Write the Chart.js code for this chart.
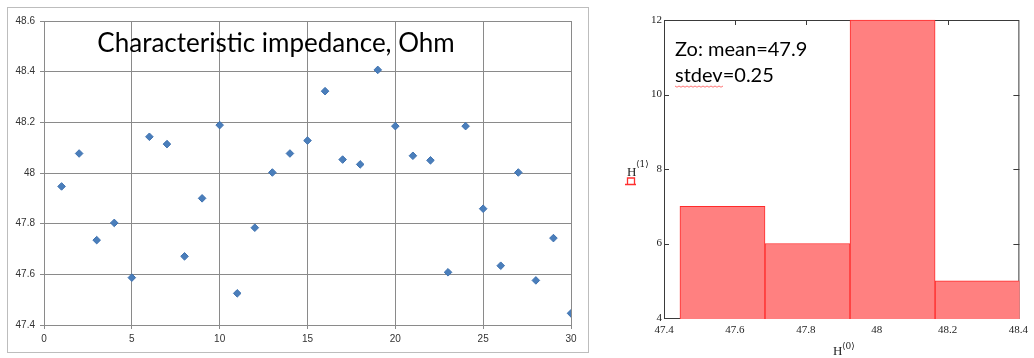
<!DOCTYPE html>
<html>
<head>
<meta charset="utf-8">
<title>Characteristic impedance</title>
<script src="https://cdn.jsdelivr.net/npm/chart.js@4.4.0/dist/chart.umd.min.js"></script>
<style>
    body { margin: 0; background: #fff; width: 1034px; height: 358px; overflow: hidden; position: relative; }
    .chart-box { position: absolute; top: 0; height: 358px; }
    #box-left { left: 0; width: 600px; }
    #box-right { left: 600px; width: 434px; }
    #frame-left { position: absolute; left: 7px; top: 7px; width: 580px; height: 344px; border: 1px solid #bdbdbd; }
</style>
</head>
<body>
<div id="frame-left"></div>
<div class="chart-box" id="box-left"><canvas id="graficoZo" width="600" height="358"></canvas></div>
<div class="chart-box" id="box-right"><canvas id="graficoHist" width="434" height="358"></canvas></div>
<script>
// measured Zo for each sample
const sampleNumbers = [1, 2, 3, 4, 5, 6, 7, 8, 9, 10, 11, 12, 13, 14, 15,
    16, 17, 18, 19, 20, 21, 22, 23, 24, 25, 26, 27, 28, 29, 30];
const impedance = [47.947, 48.077, 47.735, 47.803, 47.587, 48.143, 48.114, 47.671, 47.900, 48.189,
    47.525, 47.784, 48.002, 48.077, 48.128, 48.323, 48.053, 48.034, 48.407, 48.185,
    48.068, 48.050, 47.608, 48.185, 47.859, 47.634, 48.002, 47.576, 47.743, 47.446];
const zoTicksX = [0, 5, 10, 15, 20, 25, 30];
const zoTicksY = [47.4, 47.6, 47.8, 48, 48.2, 48.4, 48.6];

// histogram of the same samples
const binEdges = [47.445, 47.685, 47.925, 48.165, 48.405];
const binCounts = [7, 6, 12, 5];
const histTicksX = [47.4, 47.6, 47.8, 48, 48.2, 48.4];
const histTicksY = [4, 6, 8, 10, 12];

document.addEventListener("DOMContentLoaded", function() {

    function fixTicks(values) {
        return function(axis) {
            axis.ticks = values.map(v => ({ value: v }));
        };
    }

    const titleZo = {
        id: 'titleZo',
        afterDraw(chart) {
            const ctx = chart.ctx;
            ctx.save();
            ctx.font = '26px Lato';
            ctx.fillStyle = '#000';
            ctx.textAlign = 'center';
            ctx.fillText('Characteristic impedance, Ohm', 276, 52);
            ctx.restore();
        }
    };

    new Chart(document.getElementById('graficoZo'), {
        type: 'scatter',
        data: {
            datasets: [{
                data: sampleNumbers.map((n, i) => ({ x: n, y: impedance[i] })),
                pointStyle: 'rectRot',
                pointRadius: 3.8,
                pointHoverRadius: 3.8,
                backgroundColor: '#4a7ebb',
                borderColor: '#3f72b0',
                borderWidth: 1
            }]
        },
        options: {
            responsive: false,
            animation: false,
            events: [],
            layout: { padding: { top: 21, right: 29, left: 0, bottom: 0 } },
            plugins: { legend: { display: false }, tooltip: { enabled: false } },
            scales: {
                x: {
                    type: 'linear', min: 0, max: 30,
                    afterBuildTicks: fixTicks(zoTicksX),
                    afterFit: s => { s.height = 33; },
                    grid: { color: '#8a8a8a', tickLength: 4 },
                    border: { color: '#8a8a8a' },
                    ticks: { padding: 4, color: '#333', font: { family: 'Liberation Sans', size: 10 },
                        callback: v => String(v) }
                },
                y: {
                    min: 47.4, max: 48.6,
                    afterBuildTicks: fixTicks(zoTicksY),
                    afterFit: s => { s.width = 44; },
                    grid: { color: '#8a8a8a', tickLength: 4 },
                    border: { color: '#8a8a8a' },
                    ticks: { padding: 5, color: '#333', font: { family: 'Liberation Sans', size: 10 },
                        callback: v => String(v) }
                }
            }
        },
        plugins: [titleZo]
    });

    // box with inward ticks, drawn under the bars
    const frameHist = {
        id: 'frameHist',
        beforeDatasetsDraw(chart) {
            const { ctx, chartArea: a, scales } = chart;
            ctx.save();
            ctx.strokeStyle = '#3a3a3a';
            ctx.lineWidth = 1;
            ctx.strokeRect(a.left + 0.5, a.top + 0.5, a.right - a.left, a.bottom - a.top);
            ctx.beginPath();
            scales.y.ticks.forEach(t => {
                if (t.value === scales.y.min || t.value === scales.y.max) return;
                const y = Math.round(scales.y.getPixelForValue(t.value)) + 0.5;
                ctx.moveTo(a.left, y); ctx.lineTo(a.left + 5, y);
                ctx.moveTo(a.right - 5, y); ctx.lineTo(a.right + 1, y);
            });
            scales.x.ticks.forEach(t => {
                if (t.value === scales.x.min || t.value === scales.x.max) return;
                const x = Math.round(scales.x.getPixelForValue(t.value)) + 0.5;
                ctx.moveTo(x, a.top); ctx.lineTo(x, a.top + 5);
                ctx.moveTo(x, a.bottom - 4); ctx.lineTo(x, a.bottom + 1);
            });
            ctx.stroke();
            ctx.restore();
        },
        afterDraw(chart) {
            const ctx = chart.ctx;
            ctx.save();
            ctx.fillStyle = '#000';
            ctx.font = '20px Lato';
            ctx.fillText('Zo: mean=47.9', 75, 56);
            ctx.fillText('stdev=0.25', 75, 82);

            // spell-check squiggle under "stdev"
            ctx.strokeStyle = '#ff5050';
            ctx.lineWidth = 0.8;
            ctx.beginPath();
            for (let x = 75; x <= 124; x += 2) {
                const y = 86 + ((x - 75) % 4 === 0 ? 0 : 1.2);
                if (x === 75) ctx.moveTo(x, y); else ctx.lineTo(x, y);
            }
            ctx.stroke();

            // axis names
            ctx.fillStyle = '#222';
            ctx.font = '13px Liberation Serif';
            ctx.fillText('H', 27, 175.5);
            ctx.fillText('H', 233, 355);
            ctx.font = '9px DejaVu Serif';
            ctx.fillText('\u27E81\u27E9', 36, 167);
            ctx.fillText('\u27E80\u27E9', 242, 349);

            // empty placeholder under H<1>
            ctx.strokeStyle = '#ff3030';
            ctx.lineWidth = 1.3;
            ctx.beginPath();
            ctx.moveTo(27.5, 184); ctx.lineTo(27.5, 178); ctx.lineTo(34.5, 178); ctx.lineTo(34.5, 184);
            ctx.moveTo(25, 184.5); ctx.lineTo(36, 184.5);
            ctx.stroke();
            ctx.restore();
        }
    };

    new Chart(document.getElementById('graficoHist'), {
        type: 'bar',
        data: {
            datasets: [{
                data: binCounts.map((c, i) => ({ x: (binEdges[i] + binEdges[i + 1]) / 2, y: c })),
                backgroundColor: '#ff8080',
                borderColor: '#ff2a2a',
                borderWidth: 1,
                borderSkipped: 'start',
                barThickness: 'flex',
                categoryPercentage: 1,
                barPercentage: 1,
                clip: 1
            }]
        },
        options: {
            responsive: false,
            animation: false,
            events: [],
            layout: { padding: { top: 20, right: 13, left: 0, bottom: 0 } },
            plugins: { legend: { display: false }, tooltip: { enabled: false } },
            scales: {
                x: {
                    type: 'linear', offset: false, min: 47.4, max: 48.4,
                    afterBuildTicks: fixTicks(histTicksX),
                    afterFit: s => { s.height = 40; },
                    grid: { display: false, drawTicks: false, offset: false },
                    border: { display: false },
                    ticks: { padding: 6, color: '#222', font: { family: 'Liberation Serif', size: 11 },
                        callback: v => String(v) }
                },
                y: {
                    min: 4, max: 12,
                    afterBuildTicks: fixTicks(histTicksY),
                    afterFit: s => { s.width = 64; },
                    grid: { display: false, drawTicks: false },
                    border: { display: false },
                    ticks: { padding: 2, color: '#222', font: { family: 'Liberation Serif', size: 11 },
                        callback: v => String(v) }
                }
            }
        },
        plugins: [frameHist]
    });
});
</script>
</body>
</html>
